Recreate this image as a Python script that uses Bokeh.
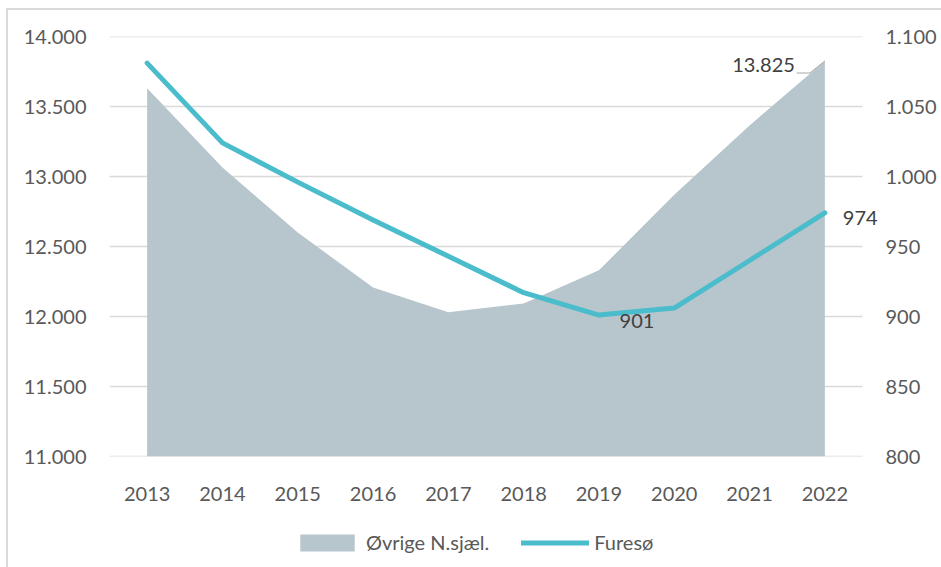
from bokeh.plotting import figure
from bokeh.layouts import column
from bokeh.models import (Range1d, LinearAxis, FixedTicker, CustomJSTickFormatter,
                          Legend, LegendItem, ColumnDataSource)
from bokeh.core.properties import value
from bokeh.embed import file_html
from bokeh.resources import INLINE

# ---- data ----
years = [2013, 2014, 2015, 2016, 2017, 2018, 2019, 2020, 2021, 2022]
ovrige = [13630, 13065, 12600, 12207, 12030, 12093, 12330, 12870, 13365, 13825]
fureso = [1081, 1024, 996, 969, 943, 917, 901, 906, 940, 974]
left_ticks = [11000, 11500, 12000, 12500, 13000, 13500, 14000]
right_ticks = [800, 850, 900, 950, 1000, 1050, 1100]
series_names = ["Øvrige N.sjæl.", "Furesø"]

FONT = "Lato"
AREA_COL = "#b7c5cc"
LINE_COL = "#4bbccb"
TXT = "#595959"
LBL = "#404040"

def dk(v):
    return f"{v:,}".replace(",", ".")

fmt = CustomJSTickFormatter(code="return tick.toFixed(0).replace(/\\B(?=(\\d{3})+(?!\\d))/g, '.');")

STEP = 75.3          # px per category
EXTRA = 23           # px of frame to the right of the plot area (room for end label)
FW, FH = int(STEP * len(years)) + EXTRA, 420
BL, BR, BT, BB = 101, 56, 26, 60
x0 = years[0] - 0.5
xe = years[-1] + 0.5
x1 = x0 + FW / STEP
p = figure(frame_width=FW, frame_height=FH,
           x_range=Range1d(x0, x1), y_range=Range1d(left_ticks[0], left_ticks[-1]),
           output_backend="svg", toolbar_location=None,
           min_border_left=BL, min_border_right=BR, min_border_top=BT, min_border_bottom=BB)
p.extra_y_ranges = {"right": Range1d(right_ticks[0], right_ticks[-1])}
p.outline_line_color = None
p.background_fill_color = "white"
p.border_fill_color = "white"

# axes
def style_axis(ax):
    ax.axis_line_color = None
    ax.major_tick_line_color = None
    ax.minor_tick_line_color = None
    ax.major_tick_out = 0
    ax.major_tick_in = 0
    ax.minor_tick_out = 0
    ax.minor_tick_in = 0
    ax.major_label_text_font = FONT
    ax.major_label_text_font_size = "20px"
    ax.major_label_text_color = TXT

p.yaxis.ticker = FixedTicker(ticks=left_ticks)
p.yaxis.formatter = fmt
p.yaxis.major_label_standoff = 23
style_axis(p.yaxis[0])

p.xaxis.ticker = FixedTicker(ticks=years)
p.xaxis.formatter = CustomJSTickFormatter(code="return tick.toFixed(0);")
p.xaxis.major_label_standoff = 30
style_axis(p.xaxis[0])

rax = LinearAxis(y_range_name="right", ticker=FixedTicker(ticks=right_ticks), formatter=fmt)
rax.major_label_standoff = 0
style_axis(rax)
p.add_layout(rax, "right")

p.xgrid.grid_line_color = None
p.ygrid.grid_line_color = None

# gridlines only across the category area
p.segment(x0=[x0] * len(left_ticks), x1=[xe] * len(left_ticks), y0=left_ticks, y1=left_ticks,
          line_color="#d9d9d9", line_width=1.5)

# area + line
src = ColumnDataSource(dict(x=years, y=ovrige, base=[left_ticks[0]] * len(years), f=fureso))
ar = p.varea(x="x", y1="base", y2="y", source=src, fill_color=AREA_COL)
ln = p.line(x="x", y="f", source=src, y_range_name="right", line_color=LINE_COL,
            line_width=5, line_cap="round", line_join="round")

# data labels
i_min = fureso.index(min(fureso))
lab = dict(text_baseline="middle", text_font=value(FONT), text_font_size="20px", text_color=LBL)
p.text(x=[years[-1]], y=[ovrige[-1]], text=[dk(ovrige[-1])], x_offset=-30, y_offset=4,
       text_align="right", **lab)
p.text(x=[years[i_min]], y=[fureso[i_min]], text=[dk(fureso[i_min])], x_offset=38, y_offset=6,
       text_align="center", y_range_name="right", **lab)
p.text(x=[years[-1]], y=[fureso[-1]], text=[dk(fureso[-1])], x_offset=18, y_offset=5,
       text_align="left", y_range_name="right", **lab)

# leader line for the 13.825 label
px_x = 1 / STEP
px_y = (left_ticks[-1] - left_ticks[0]) / FH
p.line(x=[years[-1] - 28 * px_x, years[-1] - 15 * px_x, years[-1]],
       y=[ovrige[-1] - 12 * px_y, ovrige[-1] - 12 * px_y, ovrige[-1]],
       line_color="#a6a6a6", line_width=1)

# ---- legend strip below the chart (frame is aligned with the chart's frame) ----
LW = BL + FW + BR
LH = 51
q = figure(width=LW, height=LH, x_range=Range1d(0, 1), y_range=Range1d(0, 1),
           output_backend="svg", toolbar_location=None,
           x_axis_location=None, y_axis_location=None,
           min_border_left=0, min_border_right=0, min_border_top=0, min_border_bottom=0)
q.outline_line_color = None
q.xgrid.grid_line_color = None
q.ygrid.grid_line_color = None
q.background_fill_color = "white"
q.border_fill_color = "white"
# legend-only renderers, placed outside the visible range
lar = q.varea(x=[-3, -2], y1=[-3, -3], y2=[-2, -2], fill_color=AREA_COL)
lln = q.line(x=[-3, -2], y=[-3, -3], line_color=LINE_COL, line_width=5, line_cap="round")

legend = Legend(items=[LegendItem(label=series_names[0], renderers=[lar]),
                       LegendItem(label=series_names[1], renderers=[lln])],
                orientation="horizontal", location=(184, 13))
legend.label_text_font = FONT
legend.label_text_font_size = "20px"
legend.label_text_color = TXT
legend.glyph_width = 68
legend.glyph_height = 21
legend.label_standoff = 5
legend.spacing = 32
legend.border_line_color = None
legend.background_fill_alpha = 0
legend.margin = 0
legend.padding = 0
q.add_layout(legend, "center")

layout = column(p, q, spacing=0)
layout.styles = {"border-left": "2px solid #d9d9d9", "border-top": "2px solid #d9d9d9",
                 "margin-left": "6px", "margin-top": "8px"}

open("out.html", "w").write(file_html(layout, INLINE))
